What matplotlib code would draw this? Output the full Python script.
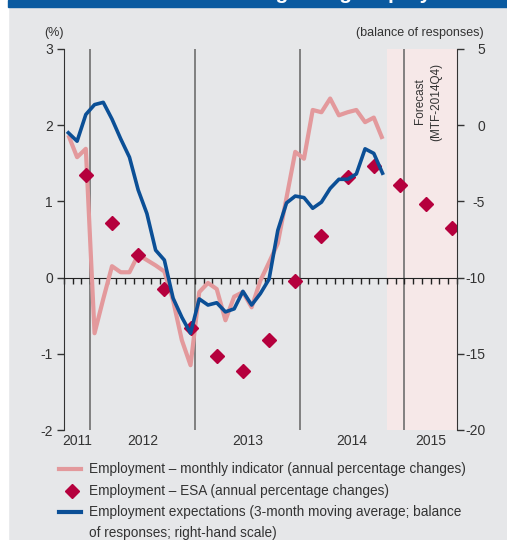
import numpy as np
import pandas as pd
import matplotlib
matplotlib.use('Agg')
from matplotlib import pyplot as plt
from matplotlib import transforms
from matplotlib.lines import Line2D
from matplotlib.patches import Rectangle

plt.rcParams['font.family'] = ['Liberation Sans', 'DejaVu Sans']
plt.rcParams['axes.unicode_minus'] = False

# monthly series, Oct 2011 - Oct 2014
months = pd.period_range('2011-10', '2014-10', freq='M')
monthly_indicator = [1.87, 1.58, 1.69,
                     -0.73, -0.28, 0.15, 0.07, 0.07, 0.30, 0.23, 0.16, 0.08, -0.30, -0.82, -1.15,
                     -0.19, -0.07, -0.15, -0.56, -0.25, -0.19, -0.39, -0.04, 0.20, 0.45, 1.05, 1.65,
                     1.56, 2.20, 2.17, 2.35, 2.13, 2.17, 2.20, 2.04, 2.10, 1.82]
expectations = [-0.5, -1.05, 0.7,
                1.35, 1.5, 0.4, -0.9, -2.1, -4.25, -5.8, -8.2, -8.85, -11.35, -12.6, -13.65,
                -11.4, -11.8, -11.65, -12.25, -12.05, -10.9, -11.8, -11.05, -10.1, -6.9, -5.1, -4.65,
                -4.75, -5.45, -5.05, -4.15, -3.55, -3.55, -3.2, -1.55, -1.85, -3.15]

# ESA quarterly, 2011Q4 - 2015Q2 (2014Q4 onwards is forecast)
quarters = pd.period_range('2011Q4', '2015Q2', freq='Q')
esa = [1.34, 0.72, 0.30, -0.15, -0.66, -1.03, -1.23, -0.82, -0.05, 0.55, 1.32, 1.47, 1.22, 0.97, 0.65]

years = [2011, 2012, 2013, 2014, 2015]
forecast_start = 2014.83

pink = '#e3999c'
blue = '#0b4f96'
crimson = '#b5003d'
grey_bg = '#e6e7e9'
text_col = '#333333'

# plot at the middle of each month (quarters at the middle of their last month)
x_month = months.year + (months.month - 0.5) / 12
x_quarter = quarters.year + (quarters.quarter * 3 - 0.5) / 12

fig = plt.figure(figsize=(5.07, 5.40), dpi=100, facecolor=grey_bg)
fig.patches.append(Rectangle((0, 0), 8 / 507, 1, transform=fig.transFigure,
                             color='white', zorder=0))
fig.patches.append(Rectangle((8 / 507, 1 - 7 / 540), 1, 7 / 540, transform=fig.transFigure,
                             color='#0a5aa0', zorder=1))
# title banner, cut off at the top edge as in the source
fig.text(150 / 507, 1 + 1 / 540, 'Indicators regarding employment', color='white',
         fontsize=15, weight='bold', ha='left', va='baseline')

ax = fig.add_axes([64 / 507, 1 - 430 / 540, (456.7 - 64) / 507, (430 - 49) / 540])
ax.set_facecolor('none')
ax.set_xlim(2011.75, 2015.5)
ax.set_ylim(-2, 3)

ax.axvspan(forecast_start, 2015.5, color='#f6e8e8', zorder=0, lw=0)
for yr in years[1:]:
    ax.axvline(yr, color='#6e6e6e', lw=1.2, zorder=1)

ax.plot(x_month, monthly_indicator, color=pink, lw=3, zorder=3, solid_capstyle='butt')
ax.plot(x_quarter, esa, ls='none', marker='D', ms=7.5, color=crimson, zorder=4)

ax.spines['top'].set_visible(False)
ax.spines['right'].set_visible(False)
ax.spines['bottom'].set_position(('data', 0))
ax.spines['bottom'].set_color('#222222')
ax.spines['left'].set_color('#333333')
ax.set_xticks(np.arange(2011.75, 2015.5 + 0.01, 1 / 12))
ax.set_xticklabels([])
ax.tick_params(axis='x', direction='out', length=4, width=1, color='#222222')
ax.set_yticks([-2, -1, 0, 1, 2, 3])
ax.tick_params(axis='y', direction='out', length=5, width=1, pad=3,
               labelsize=10, labelcolor=text_col, color='#333333')

ax2 = ax.twinx()
ax2.plot(x_month, expectations, color=blue, lw=2.6, zorder=5)
ax2.set_ylim(-20, 5)
ax2.set_yticks([-20, -15, -10, -5, 0, 5])
for s in ['top', 'bottom', 'left']:
    ax2.spines[s].set_visible(False)
ax2.spines['right'].set_color('#333333')
ax2.tick_params(axis='y', direction='out', length=5, width=1, pad=15.5,
                labelsize=10, labelcolor=text_col, color='#333333')
for t in ax2.yaxis.get_major_ticks():
    t.label2.set_horizontalalignment('right')

# year labels centred in each year span
trans = transforms.blended_transform_factory(ax.transData, ax.transAxes)
for yr in years:
    lo = max(yr, 2011.75)
    hi = min(yr + 1, 2015.5)
    ax.text((lo + hi) / 2, -0.029, str(yr), transform=trans, ha='center', va='center',
            fontsize=10, color=text_col)

ax.text(2015.227, 2.31, 'Forecast\n(MTF-2014Q4)', rotation=90, ha='center', va='center',
        multialignment='center', fontsize=8.5, color=text_col, linespacing=1.5)

fig.text(54 / 507, 1 - 33 / 540, '(%)', ha='center', va='center', fontsize=9, color=text_col)
fig.text(484 / 507, 1 - 33 / 540, '(balance of responses)', ha='right', va='center',
         fontsize=9, color=text_col)

# legend
fig.add_artist(Line2D([59 / 507, 81 / 507], [1 - 469 / 540] * 2, color=pink, lw=3))
fig.add_artist(Line2D([72 / 507], [1 - 491 / 540], marker='D', ms=7, color=crimson, ls='none'))
fig.add_artist(Line2D([59 / 507, 81 / 507], [1 - 512 / 540] * 2, color=blue, lw=3))
legend_text = ['Employment \u2013 monthly indicator (annual percentage changes)',
               'Employment \u2013 ESA (annual percentage changes)',
               'Employment expectations (3-month moving average; balance',
               'of responses; right-hand scale)']
for i, txt in enumerate(legend_text):
    fig.text(89 / 507, 1 - (469 + 21.5 * i) / 540, txt, ha='left', va='center',
             fontsize=9.8, color=text_col)

fig.savefig('out.png', dpi=100, facecolor=fig.get_facecolor())
